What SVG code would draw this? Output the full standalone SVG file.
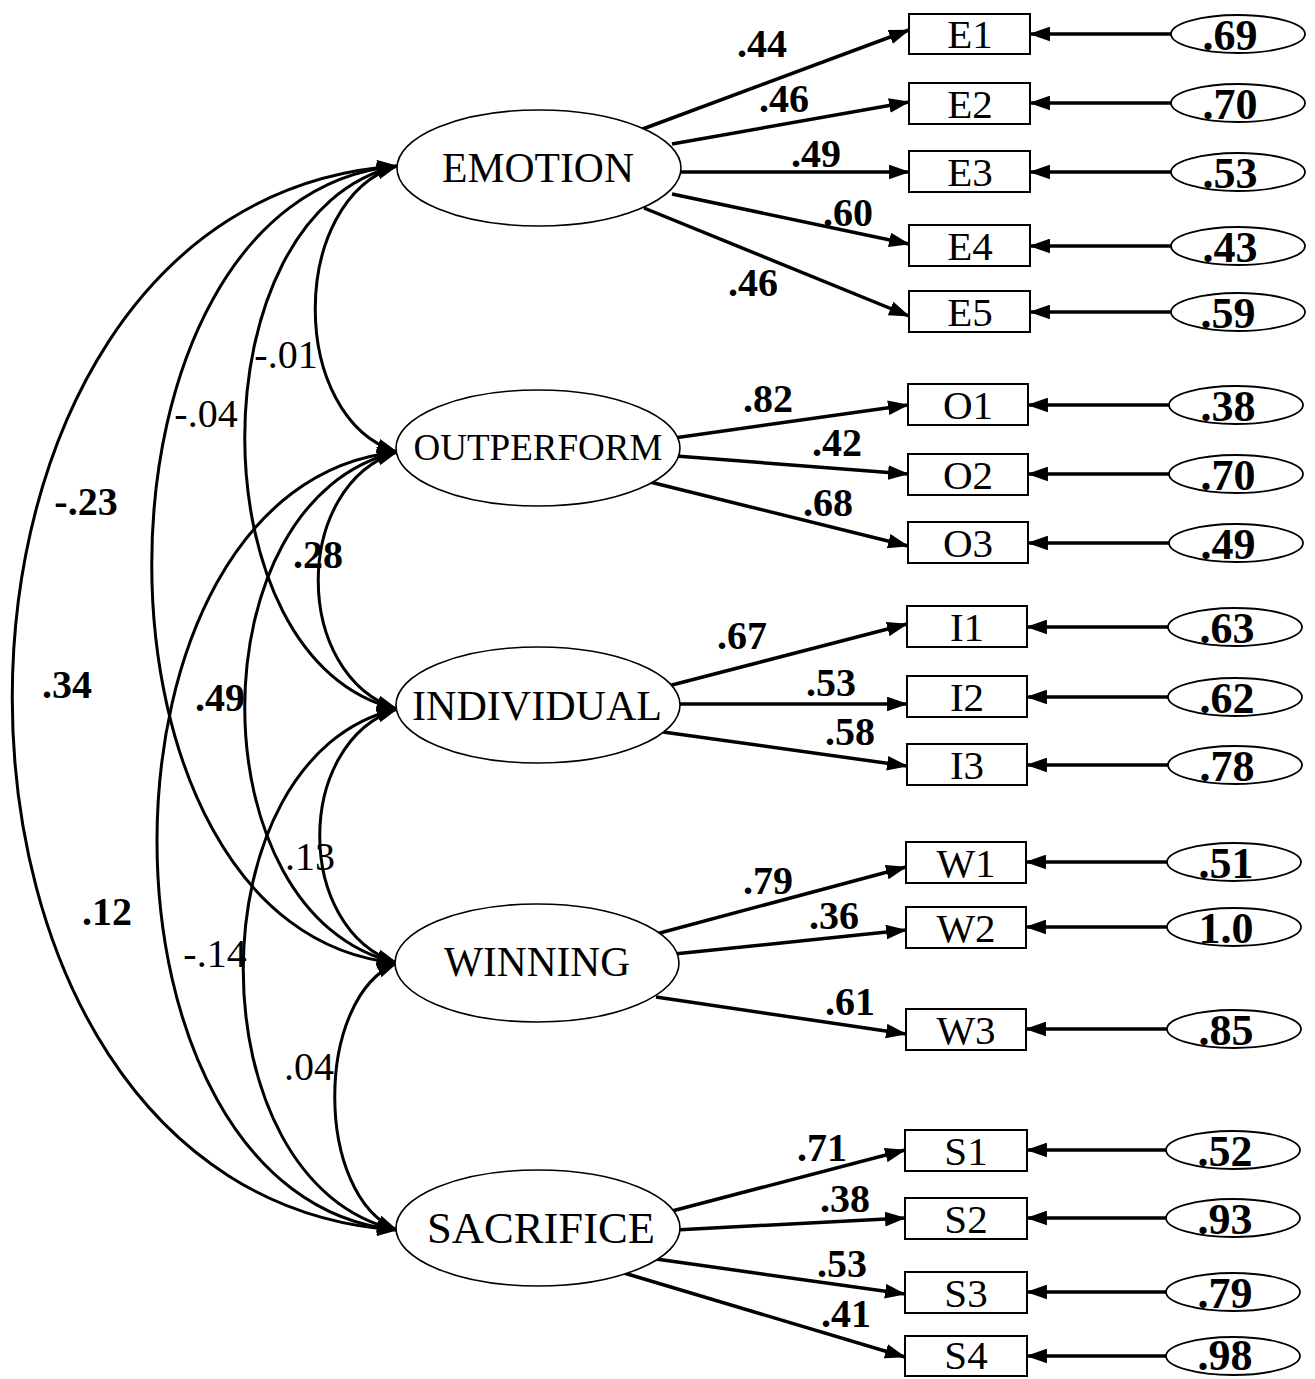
<svg xmlns="http://www.w3.org/2000/svg" width="1315" height="1379" viewBox="0 0 1315 1379">
<defs>
<marker id="ah" viewBox="0 0 20 14" refX="19" refY="7" markerWidth="21" markerHeight="15" orient="auto-start-reverse" markerUnits="userSpaceOnUse"><path d="M0,0 L20,7 L0,14 z" fill="#000"/></marker>
<style>
.arc{fill:none;stroke:#000;stroke-width:3;marker-start:url(#ah);marker-end:url(#ah)}
.ld{fill:none;stroke:#000;stroke-width:3.5;marker-end:url(#ah)}
.er{fill:none;stroke:#000;stroke-width:3.5;marker-end:url(#ah)}
.lat{fill:#fff;stroke:#000;stroke-width:1.6}
.box{fill:#fff;stroke:#000;stroke-width:2}
.eel{fill:#fff;stroke:#000;stroke-width:1.8}
.lt{font-family:"Liberation Serif","Times New Roman",serif;text-anchor:middle;fill:#000}
.bt{font-family:"Liberation Serif","Times New Roman",serif;font-size:41px;text-anchor:middle;fill:#000}
.et{font-family:"Liberation Serif","Times New Roman",serif;font-size:44px;font-weight:bold;text-anchor:middle;fill:#000}
.lw{font-family:"Liberation Serif","Times New Roman",serif;font-size:40px;font-weight:bold;text-anchor:middle;fill:#000}
.cn{font-family:"Liberation Serif","Times New Roman",serif;font-size:40px;text-anchor:middle;fill:#000}
.cb{font-family:"Liberation Serif","Times New Roman",serif;font-size:40px;font-weight:bold;text-anchor:middle;fill:#000}
</style>
</defs>
<rect width="1315" height="1379" fill="#fff"/>

<g id="connectors">
  <!-- correlations -->
  <path class="arc" d="M397,166 C288,200 288,418 397,452"/>
  <path class="arc" d="M397,166 C194,212 194,663 397,709"/>
  <path class="arc" d="M397,166 C70,196 70,933 397,963"/>
  <path class="arc" d="M397,166 C-116,200 -116,1196 397,1230"/>
  <path class="arc" d="M397,452 C292,486 292,675 397,709"/>
  <path class="arc" d="M397,452 C194,498 194,917 397,963"/>
  <path class="arc" d="M397,452 C77,484 77,1198 397,1230"/>
  <path class="arc" d="M397,709 C294,743 294,929 397,963"/>
  <path class="arc" d="M397,709 C192,755 192,1184 397,1230"/>
  <path class="arc" d="M397,963 C314,997 314,1196 397,1230"/>
  <!-- loadings -->
  <line class="ld" x1="640" y1="130" x2="909" y2="30"/>
  <line class="ld" x1="672" y1="144" x2="909" y2="102"/>
  <line class="ld" x1="676" y1="172" x2="909" y2="172"/>
  <line class="ld" x1="672" y1="194" x2="909" y2="244"/>
  <line class="ld" x1="644" y1="208" x2="909" y2="316"/>
  <line class="ld" x1="674" y1="438" x2="908" y2="405"/>
  <line class="ld" x1="676" y1="456" x2="908" y2="474"/>
  <line class="ld" x1="650" y1="482" x2="908" y2="546"/>
  <line class="ld" x1="668" y1="686" x2="907" y2="624"/>
  <line class="ld" x1="676" y1="704" x2="907" y2="704"/>
  <line class="ld" x1="663" y1="732" x2="907" y2="766"/>
  <line class="ld" x1="656" y1="934" x2="906" y2="867"/>
  <line class="ld" x1="674" y1="954" x2="906" y2="930"/>
  <line class="ld" x1="656" y1="997" x2="906" y2="1034"/>
  <line class="ld" x1="672" y1="1211" x2="905" y2="1150"/>
  <line class="ld" x1="675" y1="1230" x2="905" y2="1218"/>
  <line class="ld" x1="656" y1="1259" x2="905" y2="1294"/>
  <line class="ld" x1="624" y1="1273" x2="905" y2="1357"/>
  <!-- error arrows -->
  <line class="er" x1="1172" y1="34" x2="1030" y2="34"/>
  <line class="er" x1="1172" y1="103" x2="1030" y2="103"/>
  <line class="er" x1="1172" y1="172" x2="1030" y2="172"/>
  <line class="er" x1="1172" y1="246" x2="1030" y2="246"/>
  <line class="er" x1="1172" y1="312" x2="1030" y2="312"/>
  <line class="er" x1="1170" y1="405" x2="1028" y2="405"/>
  <line class="er" x1="1170" y1="474" x2="1028" y2="474"/>
  <line class="er" x1="1170" y1="543" x2="1028" y2="543"/>
  <line class="er" x1="1169" y1="627" x2="1027" y2="627"/>
  <line class="er" x1="1169" y1="697" x2="1027" y2="697"/>
  <line class="er" x1="1169" y1="765" x2="1027" y2="765"/>
  <line class="er" x1="1167" y1="862" x2="1026" y2="862"/>
  <line class="er" x1="1167" y1="927" x2="1026" y2="927"/>
  <line class="er" x1="1167" y1="1029" x2="1026" y2="1029"/>
  <line class="er" x1="1167" y1="1150" x2="1027" y2="1150"/>
  <line class="er" x1="1167" y1="1218" x2="1027" y2="1218"/>
  <line class="er" x1="1167" y1="1292" x2="1027" y2="1292"/>
  <line class="er" x1="1167" y1="1356" x2="1027" y2="1356"/>
  <!-- correlation labels -->
  <text class="cn" x="286" y="368">-.01</text>
  <text class="cn" x="206" y="427">-.04</text>
  <text class="cb" x="86" y="515">-.23</text>
  <text class="cb" x="318" y="568">.28</text>
  <text class="cb" x="67" y="698">.34</text>
  <text class="cb" x="220" y="711">.49</text>
  <text class="cn" x="310" y="870">.13</text>
  <text class="cb" x="107" y="925">.12</text>
  <text class="cn" x="215" y="967">-.14</text>
  <text class="cn" x="309" y="1080">.04</text>
  <!-- loading labels -->
  <text class="lw" x="762" y="57">.44</text>
  <text class="lw" x="784" y="112">.46</text>
  <text class="lw" x="816" y="167">.49</text>
  <text class="lw" x="848" y="226">.60</text>
  <text class="lw" x="753" y="296">.46</text>
  <text class="lw" x="768" y="412">.82</text>
  <text class="lw" x="837" y="456">.42</text>
  <text class="lw" x="828" y="516">.68</text>
  <text class="lw" x="742" y="649">.67</text>
  <text class="lw" x="831" y="696">.53</text>
  <text class="lw" x="850" y="745">.58</text>
  <text class="lw" x="768" y="894">.79</text>
  <text class="lw" x="834" y="929">.36</text>
  <text class="lw" x="850" y="1015">.61</text>
  <text class="lw" x="822" y="1161">.71</text>
  <text class="lw" x="845" y="1212">.38</text>
  <text class="lw" x="842" y="1277">.53</text>
  <text class="lw" x="846" y="1327">.41</text>
</g>

<g id="EMOTION"><ellipse class="lat" cx="539" cy="168" rx="142" ry="58"/><text class="lt" x="538" y="182" font-size="42" textLength="192" lengthAdjust="spacingAndGlyphs">EMOTION</text></g>
<g id="OUTPERFORM"><ellipse class="lat" cx="538" cy="448" rx="142" ry="58"/><text class="lt" x="538" y="460" font-size="38" textLength="249" lengthAdjust="spacingAndGlyphs">OUTPERFORM</text></g>
<g id="INDIVIDUAL"><ellipse class="lat" cx="538" cy="705" rx="142" ry="58"/><text class="lt" x="537" y="720" font-size="43" textLength="250" lengthAdjust="spacingAndGlyphs">INDIVIDUAL</text></g>
<g id="WINNING"><ellipse class="lat" cx="537" cy="963" rx="142" ry="59"/><text class="lt" x="537" y="976" font-size="42" textLength="186" lengthAdjust="spacingAndGlyphs">WINNING</text></g>
<g id="SACRIFICE"><ellipse class="lat" cx="538" cy="1228" rx="142" ry="58"/><text class="lt" x="541" y="1243" font-size="45" textLength="228" lengthAdjust="spacingAndGlyphs">SACRIFICE</text></g>

<g id="E1"><rect class="box" x="909" y="14" width="121" height="40"/><text class="bt" x="970" y="48">E1</text></g>
<g id="E2"><rect class="box" x="909" y="83" width="121" height="41"/><text class="bt" x="970" y="118">E2</text></g>
<g id="E3"><rect class="box" x="909" y="151" width="121" height="41"/><text class="bt" x="970" y="186">E3</text></g>
<g id="E4"><rect class="box" x="909" y="225" width="121" height="41"/><text class="bt" x="970" y="260">E4</text></g>
<g id="E5"><rect class="box" x="909" y="291" width="121" height="41"/><text class="bt" x="970" y="326">E5</text></g>
<g id="O1"><rect class="box" x="908" y="384" width="120" height="41"/><text class="bt" x="968" y="419">O1</text></g>
<g id="O2"><rect class="box" x="908" y="454" width="120" height="41"/><text class="bt" x="968" y="489">O2</text></g>
<g id="O3"><rect class="box" x="908" y="522" width="120" height="41"/><text class="bt" x="968" y="557">O3</text></g>
<g id="I1"><rect class="box" x="907" y="606" width="120" height="41"/><text class="bt" x="967" y="641">I1</text></g>
<g id="I2"><rect class="box" x="907" y="676" width="120" height="41"/><text class="bt" x="967" y="711">I2</text></g>
<g id="I3"><rect class="box" x="907" y="744" width="120" height="41"/><text class="bt" x="967" y="779">I3</text></g>
<g id="W1"><rect class="box" x="906" y="842" width="120" height="41"/><text class="bt" x="966" y="877">W1</text></g>
<g id="W2"><rect class="box" x="906" y="907" width="120" height="41"/><text class="bt" x="966" y="942">W2</text></g>
<g id="W3"><rect class="box" x="906" y="1009" width="120" height="41"/><text class="bt" x="966" y="1044">W3</text></g>
<g id="S1"><rect class="box" x="905" y="1130" width="122" height="41"/><text class="bt" x="966" y="1165">S1</text></g>
<g id="S2"><rect class="box" x="905" y="1198" width="122" height="41"/><text class="bt" x="966" y="1233">S2</text></g>
<g id="S3"><rect class="box" x="905" y="1272" width="122" height="41"/><text class="bt" x="966" y="1307">S3</text></g>
<g id="S4"><rect class="box" x="905" y="1336" width="122" height="40"/><text class="bt" x="966" y="1369">S4</text></g>

<g id="eE1"><ellipse class="eel" cx="1238" cy="34" rx="67" ry="19"/><text class="et" x="1230" y="50">.69</text></g>
<g id="eE2"><ellipse class="eel" cx="1238" cy="103" rx="67" ry="19"/><text class="et" x="1230" y="119">.70</text></g>
<g id="eE3"><ellipse class="eel" cx="1238" cy="172" rx="67" ry="19"/><text class="et" x="1230" y="188">.53</text></g>
<g id="eE4"><ellipse class="eel" cx="1238" cy="246" rx="67" ry="19"/><text class="et" x="1230" y="262">.43</text></g>
<g id="eE5"><ellipse class="eel" cx="1238" cy="312" rx="67" ry="19"/><text class="et" x="1228" y="328">.59</text></g>
<g id="eO1"><ellipse class="eel" cx="1236" cy="405" rx="67" ry="19"/><text class="et" x="1228" y="421">.38</text></g>
<g id="eO2"><ellipse class="eel" cx="1236" cy="474" rx="67" ry="19"/><text class="et" x="1228" y="490">.70</text></g>
<g id="eO3"><ellipse class="eel" cx="1236" cy="543" rx="67" ry="19"/><text class="et" x="1228" y="559">.49</text></g>
<g id="eI1"><ellipse class="eel" cx="1235" cy="627" rx="67" ry="19"/><text class="et" x="1227" y="643">.63</text></g>
<g id="eI2"><ellipse class="eel" cx="1235" cy="697" rx="67" ry="19"/><text class="et" x="1227" y="713">.62</text></g>
<g id="eI3"><ellipse class="eel" cx="1235" cy="765" rx="67" ry="19"/><text class="et" x="1227" y="781">.78</text></g>
<g id="eW1"><ellipse class="eel" cx="1234" cy="862" rx="67" ry="19"/><text class="et" x="1226" y="878">.51</text></g>
<g id="eW2"><ellipse class="eel" cx="1234" cy="927" rx="67" ry="19"/><text class="et" x="1226" y="943">1.0</text></g>
<g id="eW3"><ellipse class="eel" cx="1234" cy="1029" rx="67" ry="19"/><text class="et" x="1226" y="1045">.85</text></g>
<g id="eS1"><ellipse class="eel" cx="1233" cy="1150" rx="67" ry="19"/><text class="et" x="1225" y="1166">.52</text></g>
<g id="eS2"><ellipse class="eel" cx="1233" cy="1218" rx="67" ry="19"/><text class="et" x="1225" y="1234">.93</text></g>
<g id="eS3"><ellipse class="eel" cx="1233" cy="1292" rx="67" ry="19"/><text class="et" x="1225" y="1308">.79</text></g>
<g id="eS4"><ellipse class="eel" cx="1233" cy="1356" rx="67" ry="19"/><text class="et" x="1225" y="1370">.98</text></g>
</svg>
